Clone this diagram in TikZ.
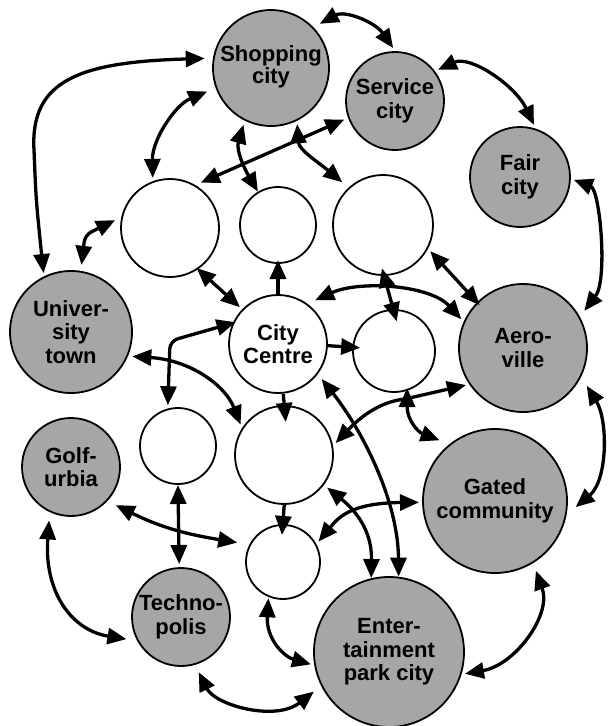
\documentclass[tikz,border=0pt]{standalone}
\usepackage{fontspec}
\setmainfont{Liberation Sans}
\usetikzlibrary{arrows.meta}
\definecolor{cgrey}{RGB}{166,166,166}
\begin{document}
\begin{tikzpicture}[x=1pt,y=-1pt,
  base/.style={circle,draw=black,line width=1.8pt,inner sep=0pt,outer sep=4pt,align=center,
    font=\fontsize{22}{23.5}\selectfont\bfseries},
  city/.style={base,fill=cgrey},
  hub/.style={base,fill=white},
  link/.style={line width=3.3pt,{Triangle[length=19pt,width=16pt]}-{Triangle[length=19pt,width=16pt]}},
  one/.style={line width=3.3pt,-{Triangle[length=19pt,width=16pt]},shorten <=-3pt}]
\useasboundingbox (0,0) rectangle (614,726);
% grey cities
\node[city, minimum size=116pt] (shop) at (271,68) {\raisebox{-4pt}{\begin{tabular}{@{}c@{}}Shopping\\[-1.5pt]city\end{tabular}}};
\node[city, minimum size=98pt] (serv) at (395,101) {Service\\city};
\node[city, minimum size=100pt] (fair) at (520,177) {Fair\\city};
\node[city, minimum size=122pt] (univ) at (71,332) {Univer-\\sity\\town};
\node[city, minimum size=98pt] (golf) at (71,467) {Golf-\\urbia};
\node[city, minimum size=128pt] (aero) at (523,348) {Aero-\\ville};
\node[city, minimum size=144pt] (gated) at (495,501) {Gated\\community};
\node[city, minimum size=98pt] (techno) at (181,617) {Techno-\\polis};
\node[city, minimum size=150pt] (ent) at (389,652) {Enter-\\tainment\\park city};
% white hubs
\node[hub, minimum size=98pt] (w1) at (170,228) {};
\node[hub, minimum size=76pt] (w2) at (278,225) {};
\node[hub, minimum size=100pt] (w3) at (383,225) {};
\node[hub, minimum size=98pt] (cc) at (278,344) {City\\Centre};
\node[hub, minimum size=82pt] (w4) at (394,351) {};
\node[hub, minimum size=98pt] (w5) at (284,455) {};
\node[hub, minimum size=76pt] (w6) at (178,446) {};
\node[hub, minimum size=74pt] (w7) at (283,562) {};
% outer ring
\draw[link, shorten >=5pt] (univ.115) .. controls (36,200) .. (34,150) .. controls (30,80) and (80,62) .. (shop.171);
\draw[link, shorten <=4pt] (shop.43) .. controls (345,10) and (375,22) .. (serv.92);
\draw[link] (serv.36) .. controls (470,55) and (515,85) .. (fair.75);
\draw[link, shorten >=4pt] (fair.-3) .. controls (600,190) and (608,280) .. (aero.30);
\draw[link, shorten <=7pt, shorten >=7pt] (aero.-28) .. controls (608,420) and (608,480) .. (gated.-8);
\draw[link, shorten <=5pt] (gated.-59) .. controls (552,615) and (515,665) .. (ent.-16);
\draw[link, shorten <=5pt, shorten >=6pt] (techno.-73) .. controls (215,705) and (275,722) .. (ent.207);
\draw[link, shorten <=5pt, shorten >=7pt] (golf.246) .. controls (44,590) and (70,630) .. (techno.206);
% inner links
\draw[link, shorten <=6pt, shorten >=9pt] (golf.-42) .. controls (160,527) and (185,534) .. (w7.154);
\draw[link, shorten <=-3pt] (w6.-90) -- (techno.92);
\draw[link, shorten <=-2pt] (w7.249) .. controls (266,640) and (285,657) .. (ent.189);
\draw[one, shorten >=-14pt] (w5.south) -- (w7.north);
\draw[one, shorten >=-20pt] (cc.-84) -- (w5.north);
\draw[one, shorten >=-7pt] (cc.north) -- (w2.south);
\draw[one, shorten >=-11pt] (cc.-2) -- (w4.175);
\draw[link, shorten <=-5pt] (w1.-55) -- (cc.136);
\draw[link, rounded corners=7pt, shorten <=3pt, shorten >=3pt] (univ.81) -- (85,235) -- (w1.170);
\draw[link, shorten <=6pt] (shop.200) .. controls (175,105) and (152,140) .. (w1.109);
\draw[link, shorten <=1pt, shorten >=2pt] (serv.200) -- (w1.57);
\draw[link, shorten <=1pt, shorten >=-3pt] (shop.244) .. controls (236,150) and (244,168) .. (w2.121);
\draw[link, shorten >=5pt] (shop.-65) .. controls (299,150) and (318,162) .. (w3.133);
\draw[link, shorten >=-7pt] (w3.-29) -- (aero.135);
\draw[link, shorten >=5pt] (aero.155) .. controls (430,285) and (360,280) .. (cc.52);
\draw[link, shorten <=-11pt, shorten >=-16pt] (w3.-88) -- (w4.92);
\draw[link] (w5.13) .. controls (365,412) and (385,401) .. (405,399) -- (aero.213);
\draw[link, shorten <=-6pt, shorten >=7pt] (w4.-73) .. controls (407,420) and (418,432) .. (gated.130);
\draw[link, shorten <=1pt] (univ.-22) .. controls (190,360) and (225,385) .. (w5.145);
\draw[link, rounded corners=8pt, shorten <=-7pt] (cc.158) -- (170,341) -- (w6.104);
\draw[link, shorten <=3pt, shorten >=-3pt] (cc.-38) .. controls (362,430) and (398,500) .. (ent.83);
\draw[link, shorten <=1pt, shorten >=-3pt] (w5.-37.5) .. controls (355,510) and (372,530) .. (ent.103);
\draw[link] (w7.30) .. controls (338,518) and (350,503) .. (gated.181);
\end{tikzpicture}
\end{document}
